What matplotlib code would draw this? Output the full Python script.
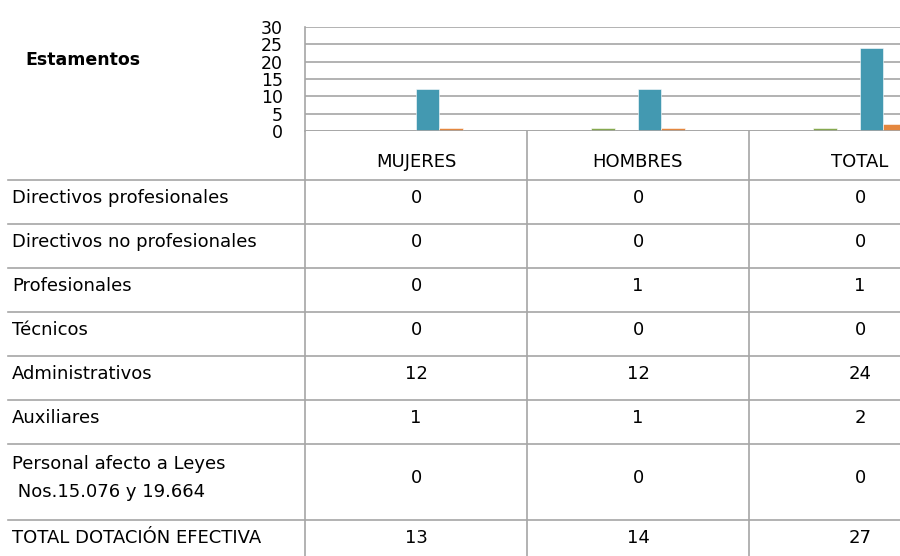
import matplotlib
matplotlib.use("Agg")
import matplotlib.pyplot as plt
import matplotlib.transforms as mtransforms
from matplotlib.lines import Line2D
import numpy as np

plt.rcParams['font.family'] = ['DejaVu Sans']

# ---- data ----
categories = ["MUJERES", "HOMBRES", "TOTAL"]
estamentos = ["Directivos profesionales", "Directivos no profesionales", "Profesionales",
              "Técnicos", "Administrativos", "Auxiliares",
              "Personal afecto a Leyes\n Nos.15.076 y 19.664", "TOTAL DOTACIÓN EFECTIVA"]
mujeres = [0, 0, 0, 0, 12, 1, 0, 13]
hombres = [0, 0, 1, 0, 12, 1, 0, 14]
total = [0, 0, 1, 0, 24, 2, 0, 27]
# the last row (total) has no visible bar in the chart
series_visible = [True, True, True, True, True, True, True, False]
series_colors = ["#4F81BD", "#C0504D", "#86A94F", "#8064A2", "#4399B1", "#E4873F", "#2C4D75", "#772C2A"]
yticks = [0, 5, 10, 15, 20, 25, 30]

FS = 13
W, H = 900, 556
fig = plt.figure(figsize=(W / 100, H / 100), dpi=100)

# plot area in pixels
px_left, px_right, px_top, px_bottom = 305, 900, 27, 131
ax = fig.add_axes([px_left / W, 1 - px_bottom / H, (px_right - px_left) / W, (px_bottom - px_top) / H])

cat_px = 222.0
x = np.arange(len(categories))
nser = len(estamentos)
bw = 1.0 / (nser + 1.5)
values = np.array([mujeres, hombres, total]).T  # rows = series
for i in range(nser):
    if not series_visible[i]:
        continue
    off = (i - (nser - 1) / 2) * bw
    ax.bar(x + off, values[i], width=bw, color=series_colors[i], edgecolor="white",
           linewidth=0.4, zorder=3)

ax.set_xlim(-0.5, -0.5 + (px_right - px_left) / cat_px)
ax.set_ylim(0, 30)
ax.set_yticks(yticks)
ax.set_yticklabels([str(t) for t in yticks], fontsize=12.5)
ax.tick_params(axis='y', length=0, pad=16)
ax.set_xticks([])
ax.yaxis.grid(True, color="#A6A6A6", linewidth=1.2)
ax.set_axisbelow(True)
for s in ["top", "right", "bottom"]:
    ax.spines[s].set_visible(False)
ax.spines["left"].set_color("#A6A6A6")
ax.spines["left"].set_linewidth(1.2)

# bottom axis line
ax.axhline(0, color="#A6A6A6", linewidth=1.2, zorder=4)

fig.text(25 / W, 1 - 60 / H, "Estamentos", fontsize=12.5, fontweight="bold",
         va="center", ha="left")

# ---- data table below ----
trans_x = mtransforms.blended_transform_factory(ax.transData, fig.transFigure)
def fy(py):
    return 1 - py / H

line_col = "#A6A6A6"
header_bottom = 180
row_heights = [44, 44, 44, 44, 44, 44, 76, 44]

# header labels
for j, c in enumerate(categories):
    fig.text(x[j], fy(162), c, transform=trans_x, ha="center", va="center", fontsize=FS)

# vertical lines
fig.add_artist(Line2D([px_left / W, px_left / W], [fy(px_bottom), 0], color=line_col, lw=1.2,
                      transform=fig.transFigure))
for b in [0.5, 1.5]:
    fig.add_artist(Line2D([b, b], [fy(px_bottom), 0], color=line_col, lw=1.2, transform=trans_x))

# horizontal lines and rows
y0 = header_bottom
fig.add_artist(Line2D([8 / W, 1], [fy(y0), fy(y0)], color=line_col, lw=1.2, transform=fig.transFigure))
for r, name in enumerate(estamentos):
    h = row_heights[r]
    yc = y0 + h / 2 - 4
    fig.text(12 / W, fy(yc), name, ha="left", va="center", fontsize=FS, linespacing=1.65)
    for j in range(len(categories)):
        fig.text(x[j], fy(yc), str(values[r][j]), transform=trans_x, ha="center", va="center",
                 fontsize=FS)
    y0 += h
    fig.add_artist(Line2D([8 / W, 1], [fy(y0), fy(y0)], color=line_col, lw=1.2,
                          transform=fig.transFigure))

fig.savefig("out.png", dpi=100)
